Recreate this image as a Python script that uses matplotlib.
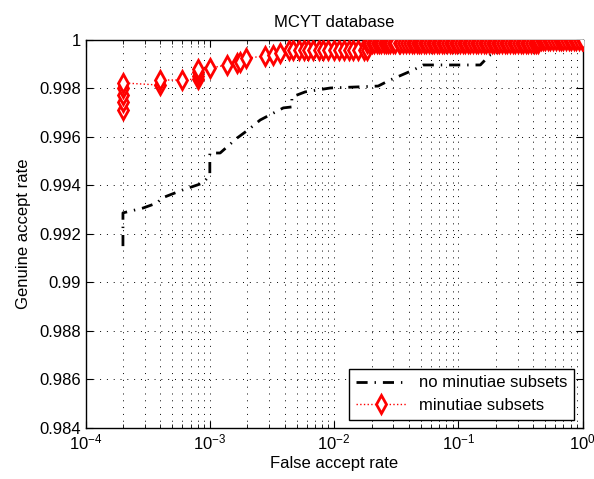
import numpy as np
import matplotlib.pyplot as plt

plt.rcParams['font.family'] = ['Liberation Sans', 'DejaVu Sans']
plt.rcParams['font.size'] = 12
plt.rcParams['mathtext.fontset'] = 'custom'
plt.rcParams['mathtext.rm'] = 'Liberation Sans'
plt.rcParams['mathtext.it'] = 'Liberation Sans'

# ROC without minutiae subsets
far_no = [2e-4, 2e-4, 2.9e-4, 3.77e-4, 4.1e-4, 6e-4, 8.8e-4, 1e-3, 1e-3,
          1.21e-3, 1.66e-3, 2.03e-3, 2.54e-3, 3.9e-3, 4.57e-3, 4.57e-3,
          5.85e-3, 9.3e-3, 0.0226, 0.0282, 0.0433, 0.052, 0.15, 0.17, 0.18,
          0.229, 0.45, 1.0]
gar_no = [0.99150, 0.99287, 0.99307, 0.99328, 0.99348, 0.99381, 0.99410,
          0.99443, 0.99534, 0.99534, 0.99596, 0.99629, 0.99670, 0.99720,
          0.99724, 0.99765, 0.99786, 0.99802, 0.99810, 0.99835, 0.99876,
          0.99897, 0.99897, 0.99926, 0.99938, 0.99959, 0.99970, 1.0]

# ROC with minutiae subsets: low FAR part
far_sub_low = [2e-4, 2e-4, 2e-4, 2e-4, 2e-4, 4e-4, 4e-4, 6e-4,
               8e-4, 8e-4, 8e-4, 8e-4, 1e-3, 1.37e-3, 1.66e-3, 1.75e-3,
               1.95e-3, 2.8e-3, 3.2e-3, 3.7e-3]
gar_sub_low = [0.99711, 0.99744, 0.99773, 0.99802, 0.99823, 0.99814,
               0.99835, 0.99835, 0.99840, 0.99852, 0.99870, 0.99882,
               0.99884, 0.99897, 0.99905, 0.99910, 0.99925, 0.99934,
               0.99938, 0.99946]

# plateaus
gar_mid = 0.99958
far_sub_mid = [4.3e-3, 4.7e-3, 5.2e-3, 5.7e-3, 6.2e-3, 6.8e-3, 7.5e-3,
               8.2e-3, 9.0e-3, 9.9e-3, 0.0109, 0.0119, 0.0131, 0.0143,
               0.0157, 0.0173, 0.0185]
gar_top = 0.99988
far_sub_top = [0.0185, 0.019, 0.020, 0.021, 0.022, 0.023, 0.024, 0.025,
               0.026, 0.027, 0.028, 0.030, 0.031, 0.033, 0.034, 0.036,
               0.038, 0.040, 0.042, 0.044, 0.046, 0.048, 0.050, 0.053,
               0.055, 0.058, 0.061, 0.064, 0.067, 0.070, 0.074, 0.077,
               0.081, 0.085, 0.089, 0.094, 0.098, 0.103, 0.108, 0.114,
               0.119, 0.125, 0.131, 0.138, 0.145, 0.152, 0.160, 0.168,
               0.176, 0.185, 0.194, 0.204, 0.214, 0.225, 0.236, 0.248,
               0.260, 0.273, 0.287, 0.301, 0.316, 0.332, 0.349, 0.366,
               0.385, 0.404, 0.424, 0.44]
gar_one = 1.0
far_sub_one = [0.44, 0.46, 0.48, 0.50, 0.53, 0.55, 0.58, 0.61, 0.64, 0.67,
               0.70, 0.74, 0.77, 0.81, 0.85, 0.89, 0.94, 0.98, 1.0]

far_sub = np.concatenate([far_sub_low, far_sub_mid, far_sub_top, far_sub_one])
gar_sub = np.concatenate([gar_sub_low,
                          np.full(len(far_sub_mid), gar_mid),
                          np.full(len(far_sub_top), gar_top),
                          np.full(len(far_sub_one), gar_one)])

yticks = [0.984, 0.986, 0.988, 0.99, 0.992, 0.994, 0.996, 0.998, 1.0]
ytick_labels = ['0.984', '0.986', '0.988', '0.99', '0.992', '0.994',
                '0.996', '0.998', '1']

fig = plt.figure(figsize=(5.94, 4.79), dpi=100)
ax = fig.add_axes([0.144, 0.1065, 0.837, 0.81])

ax.plot(far_no, gar_no, color='k', lw=2, linestyle=(0, (4, 2.5, 0.5, 2.5)),
        label='no minutiae subsets', zorder=3)
ax.plot(far_sub, gar_sub, color='r', lw=1, linestyle=':', marker='d',
        ms=9, mew=2, mfc='white', mec='r', label='minutiae subsets',
        zorder=4)

ax.set_xscale('log')
ax.set_xlim(1e-4, 1)
ax.set_ylim(0.984, 1.0)
ax.set_yticks(yticks)
ax.set_yticklabels(ytick_labels)

grid_style = dict(linestyle=(0, (1, 6)), color='k', lw=0.7)
ax.grid(True, which='major', axis='both', **grid_style)
ax.grid(True, which='minor', axis='x', **grid_style)
ax.tick_params(which='both', direction='in', top=True, right=True, pad=3)
ax.tick_params(which='major', length=5)
ax.tick_params(which='minor', length=3)
for s in ax.spines.values():
    s.set_linewidth(1)

ax.set_title('MCYT database', fontsize=12, pad=9)
ax.set_xlabel('False accept rate', labelpad=3)
ax.set_ylabel('Genuine accept rate', labelpad=6)

leg = ax.legend(loc='lower right', fancybox=False, framealpha=1,
                edgecolor='k', borderaxespad=0.5, handlelength=3,
                borderpad=0.4, labelspacing=0.45)
leg.get_frame().set_linewidth(1)

fig.savefig('out.png', dpi=100)
